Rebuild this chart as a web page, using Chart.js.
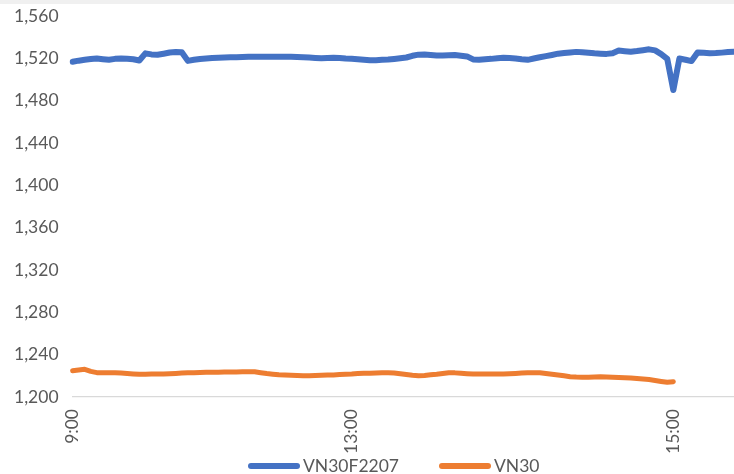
<!DOCTYPE html>
<html>
<head>
<meta charset="utf-8">
<script src="https://cdn.jsdelivr.net/npm/chart.js@4.4.1/dist/chart.umd.min.js"></script>
<style>
    html, body { margin: 0; padding: 0; background: #fff; overflow: hidden; }
    #band { height: 4px; background: #f0f0f0; }
    #wrap { position: relative; width: 734px; height: 470px; }
    #legend { position: absolute; left: 248px; top: 451px; display: flex; align-items: center;
              font-family: Lato, sans-serif; font-size: 17.5px; color: #595959; }
    #legend .item { display: flex; align-items: center; margin-right: 40px; }
    #legend .swatch { width: 52px; height: 6px; border-radius: 3px; margin-right: 3px; }
</style>
</head>
<body>
<div id="band"></div>
<div id="wrap"><canvas id="chart"></canvas><div id="legend"></div></div>
<script>
// Tick labels (only three times are shown on the category axis)
const tickIndex = [0, 46, 99];
const tickText = ['9:00', '13:00', '15:00'];

// VN30F2207 futures (110 points)
const vn30f = [
    1516.8, 1517.8, 1518.6, 1519.3, 1519.9, 1519.2, 1518.6, 1519.5, 1519.9, 1519.6,
    1519.1, 1518.0, 1524.7, 1523.7, 1523.4, 1524.4, 1525.5, 1526.0, 1525.8, 1517.6,
    1518.6, 1519.4, 1519.8, 1520.3, 1520.6, 1520.8, 1521.0, 1521.1, 1521.3, 1521.5,
    1521.5, 1521.5, 1521.5, 1521.5, 1521.5, 1521.5, 1521.4, 1521.2, 1521.0, 1520.7,
    1520.3, 1520.0, 1520.2, 1520.5, 1520.4, 1519.8, 1519.5, 1519.1, 1518.6, 1518.2,
    1518.3, 1518.6, 1518.8, 1519.4, 1520.1, 1520.8, 1522.4, 1523.5, 1523.6, 1523.1,
    1522.6, 1522.6, 1522.8, 1523.1, 1522.5, 1521.8, 1519.0, 1518.7, 1519.1, 1519.5,
    1520.1, 1520.5, 1520.3, 1519.9, 1519.1, 1518.6, 1519.8, 1521.0, 1522.1, 1523.2,
    1524.4, 1525.0, 1525.6, 1526.1, 1525.7, 1525.2, 1524.7, 1524.4, 1524.2, 1524.8,
    1527.3, 1526.8, 1526.3, 1526.9, 1527.7, 1528.5, 1527.5, 1524.0, 1519.5, 1490.0,
    1519.8, 1518.7, 1517.4, 1525.6, 1525.2, 1524.8, 1525.0, 1525.4, 1525.9, 1526.2
];

// VN30 index, ends at 15:00
const vn30 = [
    1224.9, 1225.6, 1226.2, 1224.2, 1223.0, 1223.0, 1223.0, 1223.0, 1222.6, 1222.2,
    1221.8, 1221.5, 1221.6, 1221.7, 1221.7, 1221.7, 1222.0, 1222.3, 1222.6, 1222.9,
    1223.0, 1223.1, 1223.3, 1223.4, 1223.5, 1223.6, 1223.6, 1223.7, 1223.8, 1223.9,
    1223.9, 1223.0, 1222.2, 1221.6, 1221.0, 1220.7, 1220.5, 1220.3, 1220.1, 1220.1,
    1220.3, 1220.5, 1220.7, 1220.9, 1221.2, 1221.5, 1221.7, 1222.1, 1222.5, 1222.4,
    1222.6, 1222.8, 1222.9, 1222.7, 1222.0, 1221.2, 1220.5, 1220.1, 1220.4, 1221.0,
    1221.5, 1222.2, 1222.9, 1222.8, 1222.4, 1222.0, 1221.7, 1221.7, 1221.7, 1221.7,
    1221.7, 1221.7, 1222.0, 1222.3, 1222.6, 1222.9, 1223.0, 1222.9, 1222.2, 1221.5,
    1220.8, 1220.0, 1219.2, 1218.8, 1218.6, 1218.7, 1218.9, 1219.2, 1218.9, 1218.7,
    1218.5, 1218.3, 1218.0, 1217.5, 1217.0, 1216.5, 1215.6, 1214.7, 1213.9, 1214.5
];

// Build the category labels, empty except for the three shown times
const labels = vn30f.map(() => '');
tickIndex.forEach((idx, i) => { labels[idx] = tickText[i]; });

const textColor = '#595959';
const font = { family: 'Lato', size: 17.5 };

// legend built as html from the chart's own legend items
const htmlLegend = {
    id: 'htmlLegend',
    afterUpdate(chart) {
        const box = document.getElementById('legend');
        box.innerHTML = '';
        chart.options.plugins.legend.labels.generateLabels(chart).forEach(item => {
            const el = document.createElement('div');
            el.className = 'item';
            const sw = document.createElement('span');
            sw.className = 'swatch';
            sw.style.background = item.strokeStyle;
            const txt = document.createElement('span');
            txt.textContent = item.text;
            el.appendChild(sw);
            el.appendChild(txt);
            box.appendChild(el);
        });
    },
};

new Chart(document.getElementById('chart'), {
    type: 'line',
    data: {
        labels: labels,
        datasets: [{
            label: 'VN30F2207',
            data: vn30f,
            borderColor: '#4472C4',
            backgroundColor: '#4472C4',
            borderWidth: 6,
            pointRadius: 0,
            tension: 0,
            borderJoinStyle: 'round',
            borderCapStyle: 'round',
        }, {
            label: 'VN30',
            data: vn30,
            borderColor: '#ED7D31',
            backgroundColor: '#ED7D31',
            borderWidth: 5,
            pointRadius: 0,
            tension: 0,
            borderJoinStyle: 'round',
            borderCapStyle: 'round',
        }],
    },
    options: {
        responsive: true,
        maintainAspectRatio: false,
        animation: false,
        layout: { padding: { left: 0, right: 0, top: 12, bottom: 13 } },
        plugins: {
            tooltip: { enabled: false },
            legend: { display: false },
        },
        scales: {
            x: {
                offset: false,
                grid: { display: false, drawTicks: false },
                border: { display: true, color: '#d9d9d9', width: 1.3 },
                ticks: {
                    autoSkip: false,
                    maxRotation: 90,
                    minRotation: 90,
                    padding: 12,
                    color: textColor,
                    font: font,
                    callback: (v, i) => labels[i],
                },
                afterFit: (scale) => {
                    scale.height = 64;
                    scale.paddingLeft = 0;
                    scale.paddingRight = 0;
                },
            },
            y: {
                min: 1200,
                max: 1560,
                grid: { display: false, drawTicks: false },
                border: { display: false },
                ticks: {
                    stepSize: 40,
                    padding: 14,
                    color: textColor,
                    font: font,
                },
                afterFit: (scale) => {
                    scale.paddingTop = 0;
                    scale.paddingBottom = 0;
                },
            },
        },
    },
    plugins: [htmlLegend],
});
</script>
</body>
</html>
